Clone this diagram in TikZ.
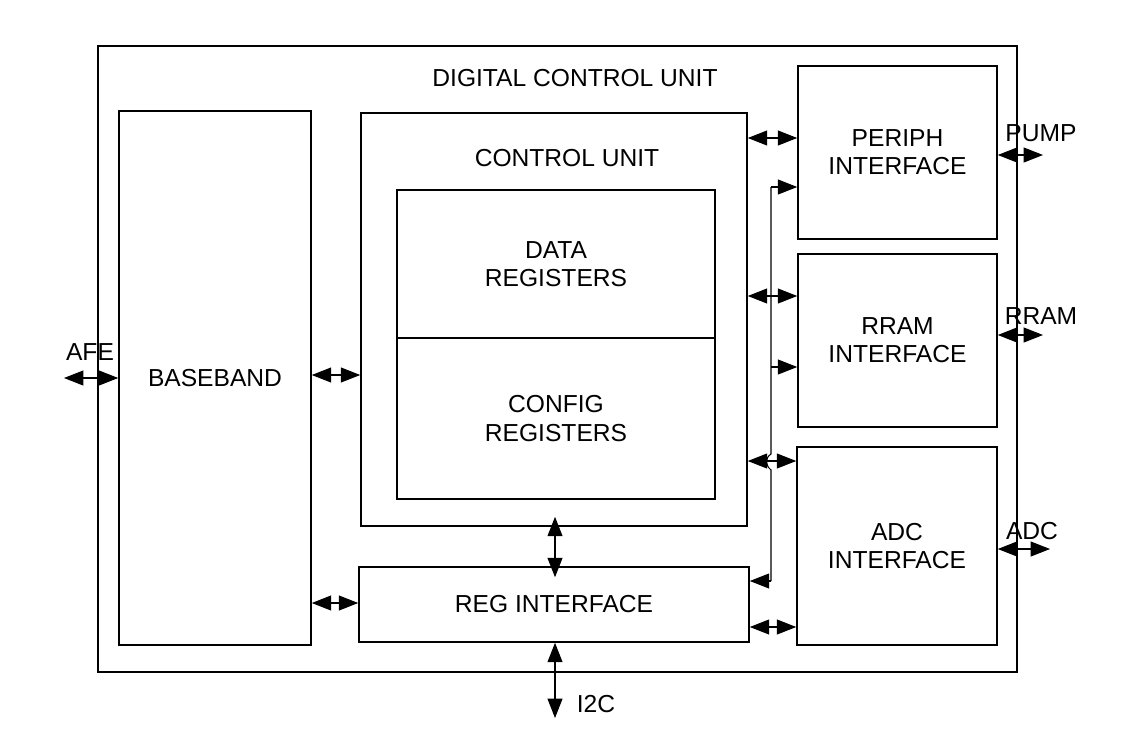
\documentclass[tikz,border=0pt]{standalone}
\usepackage{fontspec}
\setmainfont{Liberation Sans}
\usetikzlibrary{arrows.meta,positioning}

\begin{document}
\begin{tikzpicture}[
  blk/.style={draw, line width=0.9pt, align=center, inner sep=0pt},
  dbl/.style={{Triangle[length=11pt,width=8.5pt]}-{Triangle[length=11pt,width=8.5pt]}, line width=0.6pt},
  sgl/.style={-{Triangle[length=11pt,width=8.5pt]}, line width=0.6pt},
  every node/.append style={font=\fontsize{14}{16}\selectfont}
]
\useasboundingbox (0,0) rectangle (22.5,-14.98);
% outer unit
\node[blk, minimum width=18.38cm, minimum height=12.52cm] (dcu) at (11.15,-7.18) {};
\node (dcut) at (11.5,-1.56) {DIGITAL CONTROL UNIT};
% blocks
\node[blk, minimum width=3.84cm, minimum height=10.68cm] (bb) at (4.30,-7.56) {BASEBAND};
\node[blk, minimum width=7.72cm, minimum height=8.26cm] (cu) at (11.08,-6.39) {};
\node (cut) at (11.34,-3.16) {CONTROL UNIT};
\node[blk, minimum width=6.36cm, minimum height=2.96cm] (dr) at (11.12,-5.28) {DATA\\REGISTERS};
\node[blk, minimum width=6.36cm, minimum height=3.22cm] (cr) at (11.12,-8.37) {CONFIG\\REGISTERS};
\node[blk, minimum width=7.80cm, minimum height=1.50cm] (reg) at (11.08,-12.09) {REG INTERFACE};
\node[blk, minimum width=3.98cm, minimum height=3.46cm] (pi) at (17.95,-3.05) {PERIPH\\INTERFACE};
\node[blk, minimum width=3.98cm, minimum height=3.46cm] (ri) at (17.95,-6.81) {RRAM\\INTERFACE};
\node[blk, minimum width=4.00cm, minimum height=3.96cm] (ai) at (17.94,-10.92) {ADC\\INTERFACE};
% external ends
\coordinate (afe) at (1.28,-7.56);
\coordinate (i2c) at (11.10,-14.36);
\coordinate (pump) at (20.86,-3.10);
\coordinate (rram) at (20.86,-6.70);
\coordinate (adc) at (21.00,-10.98);
\node (afet) at (1.80,-7.04) {AFE};
\node (i2ct) at (11.92,-14.08) {I2C};
\node (pumpt) at (20.82,-2.66) {PUMP};
\node (rramt) at (20.82,-6.32) {RRAM};
\node (adct) at (20.64,-10.62) {ADC};
% connections
\draw[dbl] (afe) -- (bb.west |- afe);
\draw[dbl] (bb.east |- 0,-7.50) -- (cu.west |- 0,-7.50);
\draw[dbl] (bb.east |- 0,-12.06) -- (reg.west |- 0,-12.06);
\draw[dbl] (cu.east |- 0,-2.76) -- (pi.west |- 0,-2.76);
\draw[dbl] (cu.east |- 0,-5.92) -- (ri.west |- 0,-5.92);
\draw[dbl] (cu.east |- 0,-9.22) -- (ai.west |- 0,-9.22);
\draw[dbl, shorten <=-0.2cm, shorten >=-0.22cm] (cu.south -| i2c) -- (reg.north -| i2c);
\draw[dbl] (reg.south -| i2c) -- (i2c);
\draw[dbl] (reg.east |- 0,-12.54) -- (ai.west |- 0,-12.54);
\draw[dbl] (pi.east |- pump) -- (pump);
\draw[dbl] (ri.east |- rram) -- (rram);
\draw[dbl] (ai.east |- adc) -- (adc);
% bus from reg interface
\coordinate (bt) at (15.42,-3.74);
\coordinate (bm) at (15.42,-7.34);
\coordinate (bb1) at (15.42,-11.62);
\draw[sgl] (bt) -- (pi.west |- bt);
\draw[sgl] (bm) -- (ri.west |- bm);
\draw[line width=0.6pt] (bt) -- (15.42,-9.08) .. controls (15.30,-9.16) and (15.30,-9.30) .. (15.42,-9.40) -- (bb1);
\draw[sgl] (bb1) -- (reg.east |- bb1);
\end{tikzpicture}
\end{document}
